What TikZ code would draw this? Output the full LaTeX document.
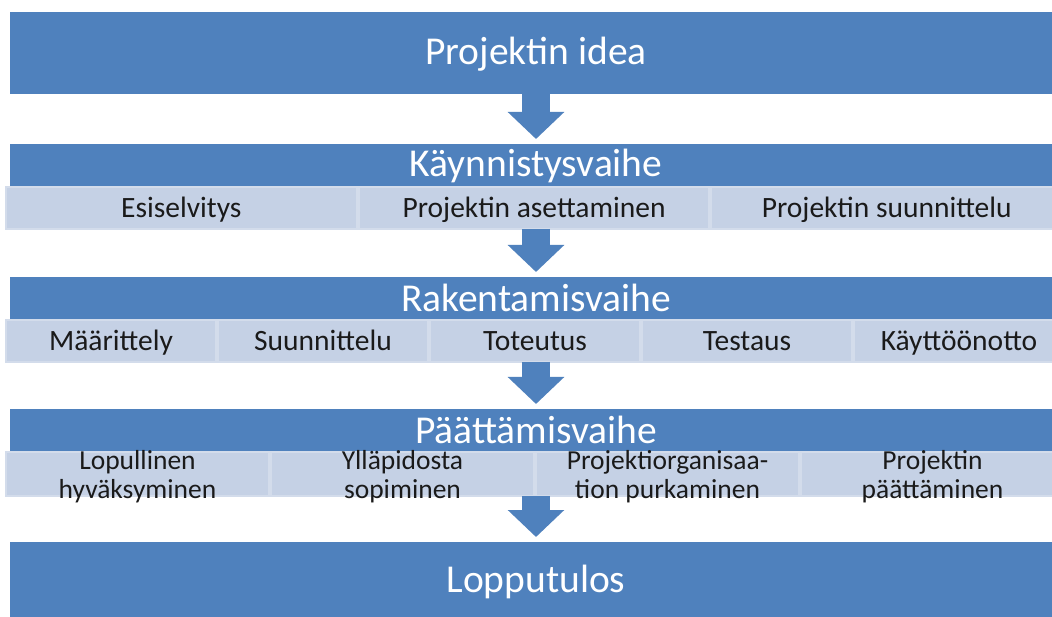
\documentclass[tikz,border=0pt]{standalone}
\usepackage{fontspec}
\setmainfont{Carlito}
\usetikzlibrary{arrows.meta}
\definecolor{barblue}{HTML}{4F81BD}
\definecolor{cellfill}{HTML}{C5D1E5}
\definecolor{cellline}{HTML}{D3DCEB}
\definecolor{celltext}{HTML}{1A1A1A}
\begin{document}
\begin{tikzpicture}[x=1pt,y=-1pt,
  bar/.style={fill=barblue, inner sep=0pt, outer sep=0pt, text=white,
    minimum width=1052pt, font=\fontsize{39.5}{44}\selectfont,
    text height=32pt, text depth=8pt},
  cell/.style={fill=cellfill, draw=cellline, line width=2pt, inner sep=0pt, outer sep=0pt,
    text=celltext, align=center, font=\fontsize{29.5}{33}\selectfont},
  cellA/.style={cell, minimum width=350.7pt, minimum height=42pt,
    text height=25pt, text depth=5pt},
  cellB/.style={cell, minimum width=210pt, minimum height=42pt,
    text height=25pt, text depth=5pt},
  cellC/.style={cell, minimum width=263pt, minimum height=44pt},
  cellCtext/.style={inner sep=0pt, outer sep=0pt, text=celltext, align=center,
    font=\fontsize{27.5}{29}\selectfont, yshift=-3pt},
  flowarrow/.style={draw=barblue, line width=28pt,
    -{Triangle[width=55pt,length=27pt]}, shorten >=5pt}]
\useasboundingbox (0,0) rectangle (1052,617);
\clip (0,0) rectangle (1052,617);
\fill[white] (0,0) rectangle (1052,617);

% phase bars
\node[bar, minimum height=82pt] (b1) at (536,53) {Projektin idea};
\node[bar, minimum height=42pt] (b2) at (536,165) {Käynnistysvaihe};
\node[bar, minimum height=42pt, text height=34pt, text depth=6pt] (b3) at (536,298) {Rakentamisvaihe};
\node[bar, minimum height=42pt, text height=33pt, text depth=7pt] (b4) at (536,430) {Päättämisvaihe};
\node[bar, minimum height=82pt, text height=29pt, text depth=11pt] (b5) at (536,583) {Lopputulos};

% row 1 cells
\node[cellA] (r1a) at (181.35,208) {Esiselvitys};
\node[cellA] (r1b) at (534.05,208) {Projektin asettaminen};
\node[cellA] (r1c) at (886.75,208) {Projektin suunnittelu};

% row 2 cells
\node[cellB] (r2a) at (111,341) {Määrittely};
\node[cellB] (r2b) at (323,341) {Suunnittelu};
\node[cellB] (r2c) at (535,341) {Toteutus};
\node[cellB] (r2d) at (747,341) {Testaus};
\node[cellB] (r2e) at (959,341) {Käyttöönotto};

% row 3 cells
\node[cellC] (r3a) at (137.5,474) {};
\node[cellC] (r3b) at (402.5,474) {};
\node[cellC] (r3c) at (667.5,474) {};
\node[cellC] (r3d) at (932.5,474) {};
\node[cellCtext] (t3a) at (r3a.center) {Lopullinen\\hyväksyminen};
\node[cellCtext] (t3b) at (r3b.center) {Ylläpidosta\\sopiminen};
\node[cellCtext] (t3c) at (r3c.center) {Projektiorganisaa-\\tion purkaminen};
\node[cellCtext] (t3d) at (r3d.center) {Projektin\\päättäminen};

% arrows
\draw[flowarrow] (b1.south) -- (b2.north);
\draw[flowarrow] (b2.center |- r1b.south) -- (b3.north);
\draw[flowarrow] (b3.center |- r2c.south) -- (b4.north);
\draw[flowarrow] (b4.center |- r3c.south) -- (b5.north);
\end{tikzpicture}
\end{document}
